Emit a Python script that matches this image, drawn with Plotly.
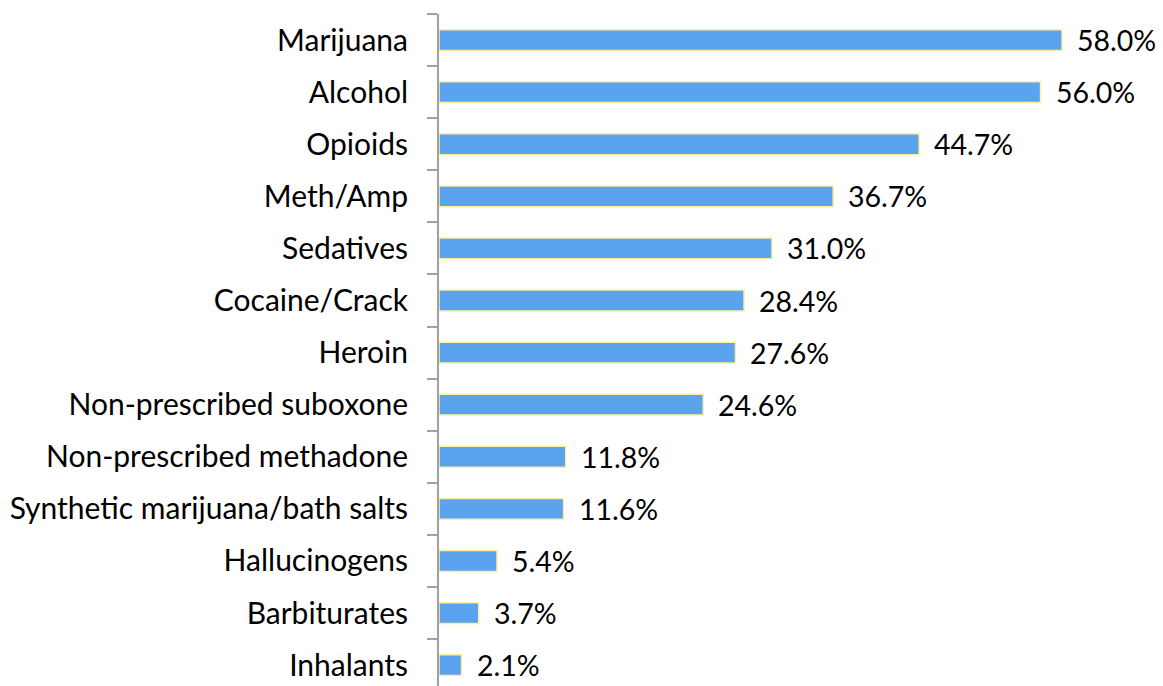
import plotly.graph_objects as go

categories = ["Marijuana", "Alcohol", "Opioids", "Meth/Amp", "Sedatives", "Cocaine/Crack",
              "Heroin", "Non-prescribed suboxone", "Non-prescribed methadone",
              "Synthetic marijuana/bath salts", "Hallucinogens", "Barbiturates", "Inhalants"]
values = [58.0, 56.0, 44.7, 36.7, 31.0, 28.4, 27.6, 24.6, 11.8, 11.6, 5.4, 3.7, 2.1]

FONT = "Lato"
fig = go.Figure()
fig.add_trace(go.Bar(
    x=values, y=categories, orientation="h",
    marker=dict(color="#5BA3EF", line=dict(color="#FFF0A0", width=1.5)),
    width=0.4, hoverinfo="skip"))

for c, v in zip(categories, values):
    fig.add_annotation(x=v, y=c, text=f"{v:.1f}%", showarrow=False,
                       xanchor="left", xshift=13, font=dict(family=FONT, size=28.5, color="black"))

fig.update_layout(
    width=1155, height=678, plot_bgcolor="white", paper_bgcolor="white",
    margin=dict(l=431, r=0, t=6, b=0, autoexpand=False), showlegend=False,
    xaxis=dict(range=[0, 67.4], visible=False, fixedrange=True),
    yaxis=dict(type="category", range=[12.4, -0.5], showline=True, linecolor="#A0A0A0",
               linewidth=2, ticks="outside", tickson="boundaries", ticklen=10,
               tickcolor="#A0A0A0", tickwidth=2, showgrid=False, ticklabelstandoff=23,
               automargin=False,
               tickfont=dict(family=FONT, size=30, color="black")),
)
fig.write_html("out.html")
